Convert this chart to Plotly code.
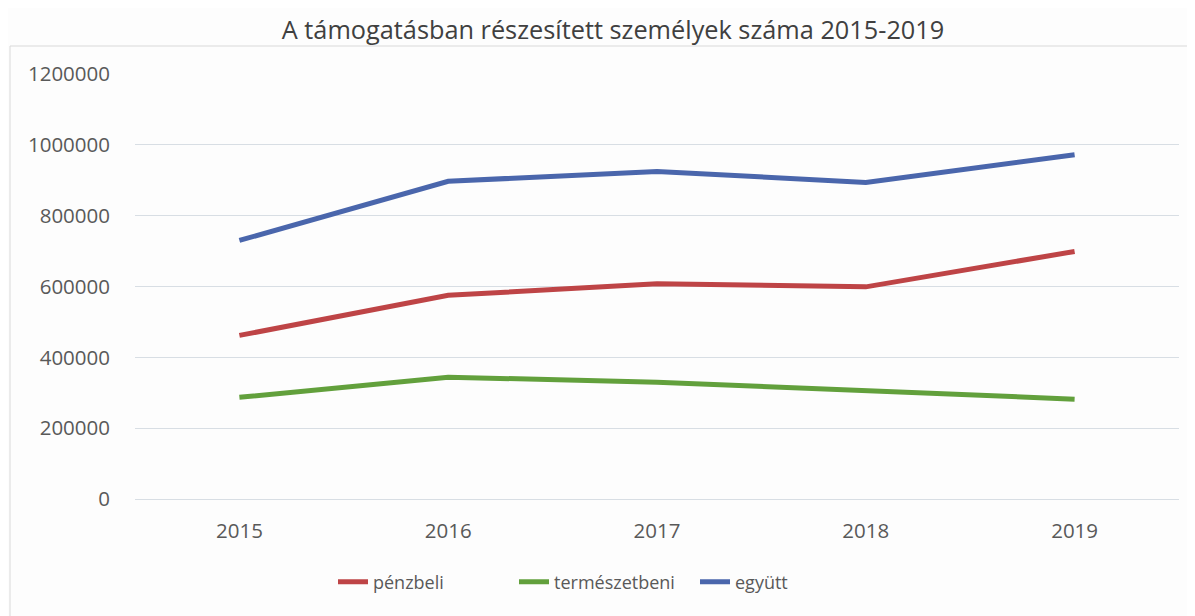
import plotly.graph_objects as go

years = ["2015", "2016", "2017", "2018", "2019"]
penzbeli = [462000, 575000, 608000, 599000, 699000]
termeszetbeni = [287000, 344000, 330000, 307000, 282000]
egyutt = [730000, 897000, 925000, 894000, 972000]

series_names = ["pénzbeli", "természetbeni", "együtt"]
series_values = [penzbeli, termeszetbeni, egyutt]
series_colors = ["#BE4446", "#62A03C", "#4A66AC"]

y_ticks = [0, 200000, 400000, 600000, 800000, 1000000, 1200000]

FONT = "Open Sans"
OFF = 8  # page body margin
W, H = 1195 - OFF, 616 - OFF
L, R, T, B = 135 - OFF, 16, 74 - OFF, 117


def fx(px):
    return (px - OFF - L) / (W - L - R)


def fy(py):
    return ((H - B) - (py - OFF)) / (H - T - B)


fig = go.Figure()
for name, vals, col in zip(series_names, series_values, series_colors):
    fig.add_trace(go.Scatter(
        x=years, y=vals, name=name, mode="lines",
        line=dict(color=col, width=5),
    ))

fig.update_layout(
    width=W, height=H,
    margin=dict(l=L, r=R, t=T, b=B, autoexpand=False),
    paper_bgcolor="#FDFDFD",
    plot_bgcolor="#FDFDFD",
    font=dict(family=FONT, color="#595959", size=20),
    title=dict(
        text="A támogatásban részesített személyek száma 2015-2019",
        x=(613 - OFF) / W, xref="container", xanchor="center",
        y=1 - (30 - OFF) / H, yref="container", yanchor="middle",
        font=dict(family=FONT, size=25.3, color="#404040"),
    ),
    xaxis=dict(
        type="category", range=[-0.5, 4.5],
        showgrid=False, zeroline=False, showline=False,
        ticks="", ticklabelstandoff=17,
        tickfont=dict(size=20.5, color="#595959"),
    ),
    yaxis=dict(
        range=[0, 1200000],
        tickvals=y_ticks,
        ticktext=[str(v) for v in y_ticks],
        showgrid=True, gridcolor="#D8DEE4", gridwidth=1,
        zeroline=True, zerolinecolor="#D8DEE4", zerolinewidth=1,
        showline=False, ticks="", ticklabelstandoff=24,
        tickfont=dict(size=20.5, color="#595959"),
    ),
    legend=dict(
        orientation="h",
        x=fx(333), xanchor="left",
        y=fy(582), yanchor="middle",
        font=dict(size=18, color="#595959"),
        bgcolor="rgba(0,0,0,0)",
        itemwidth=30,
        entrywidth=136, entrywidthmode="pixels",
    ),
    showlegend=True,
    shapes=[dict(
        type="rect", xref="paper", yref="paper",
        x0=fx(10), x1=fx(1400),
        y0=fy(700), y1=fy(46),
        line=dict(color="#D9D9D9", width=1),
        layer="below",
    )],
)

fig.write_html("out.html")
